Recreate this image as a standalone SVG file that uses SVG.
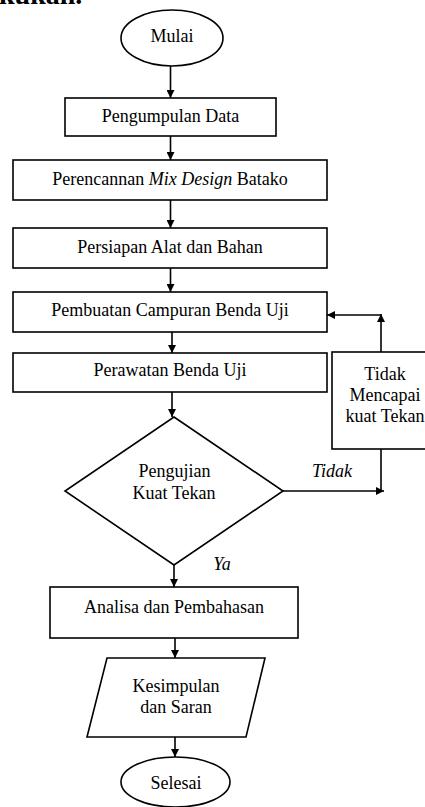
<svg xmlns="http://www.w3.org/2000/svg" width="425" height="807" viewBox="0 0 425 807">
<defs>
<marker id="ah" viewBox="0 0 10 10" refX="10" refY="5" markerWidth="8" markerHeight="8" markerUnits="userSpaceOnUse" orient="auto">
<path d="M0,0 L10,5 L0,10 Z" fill="#000"/>
</marker>
</defs>
<style>
.s{fill:#fff;stroke:#000;stroke-width:1.6}
.t{font-family:"Liberation Serif","Times New Roman",serif;font-size:18px;fill:#000;text-anchor:middle}
.i{font-style:italic}
.c{fill:none;stroke:#000;stroke-width:1.6}
</style>
<rect width="425" height="807" fill="#fff"/>
<text x="-1" y="4" style="font-family:'Liberation Serif',serif;font-size:28px;font-weight:bold">kukan.</text>
<g id="connectors">
<line class="c" x1="170.5" y1="66" x2="170.5" y2="98" marker-end="url(#ah)"/>
<line class="c" x1="170.5" y1="136" x2="170.5" y2="160" marker-end="url(#ah)"/>
<line class="c" x1="170.5" y1="200" x2="170.5" y2="228" marker-end="url(#ah)"/>
<line class="c" x1="170.5" y1="268" x2="170.5" y2="292" marker-end="url(#ah)"/>
<line class="c" x1="172" y1="332" x2="172" y2="353" marker-end="url(#ah)"/>
<line class="c" x1="172" y1="392" x2="172" y2="417" marker-end="url(#ah)"/>
<line class="c" x1="174" y1="565" x2="174" y2="587" marker-end="url(#ah)"/>
<line class="c" x1="175" y1="638" x2="175" y2="658" marker-end="url(#ah)"/>
<line class="c" x1="175" y1="737" x2="175" y2="757" marker-end="url(#ah)"/>
<line class="c" x1="283" y1="491" x2="384" y2="491" marker-end="url(#ah)"/>
<line class="c" x1="381" y1="449" x2="381" y2="491"/>
<line class="c" x1="381" y1="352" x2="381" y2="314" marker-end="url(#ah)"/>
<line class="c" x1="381" y1="315" x2="327" y2="315" marker-end="url(#ah)"/>
<text class="t i" x="332" y="477">Tidak</text>
<text class="t i" x="222" y="570">Ya</text>
</g>
<g id="mulai">
<ellipse class="s" cx="172" cy="38" rx="51" ry="28"/>
<text class="t" x="172" y="42">Mulai</text>
</g>
<g id="pengumpulan">
<rect class="s" x="65" y="98" width="211" height="38"/>
<text class="t" x="170.5" y="122">Pengumpulan Data</text>
</g>
<g id="perencanaan">
<rect class="s" x="13" y="160" width="314" height="40"/>
<text class="t" x="170" y="185">Perencannan <tspan class="i">Mix Design</tspan> Batako</text>
</g>
<g id="persiapan">
<rect class="s" x="13" y="228" width="314" height="40"/>
<text class="t" x="170" y="253">Persiapan Alat dan Bahan</text>
</g>
<g id="pembuatan">
<rect class="s" x="13" y="292" width="314" height="40"/>
<text class="t" x="170" y="316">Pembuatan Campuran Benda Uji</text>
</g>
<g id="perawatan">
<rect class="s" x="13" y="353" width="314" height="39"/>
<text class="t" x="170" y="376">Perawatan Benda Uji</text>
</g>
<g id="tidak-mencapai">
<rect class="s" x="332" y="352" width="105" height="97"/>
<text class="t" x="385" y="380">Tidak</text>
<text class="t" x="385" y="401">Mencapai</text>
<text class="t" x="385" y="422">kuat Tekan</text>
</g>
<g id="pengujian">
<polygon class="s" points="174,417 283,491 174,565 65,491"/>
<text class="t" x="174.5" y="477">Pengujian</text>
<text class="t" x="174" y="499">Kuat Tekan</text>
</g>
<g id="analisa">
<rect class="s" x="50" y="587" width="248" height="51"/>
<text class="t" x="174" y="613">Analisa dan Pembahasan</text>
</g>
<g id="kesimpulan">
<polygon class="s" points="107,658 265,658 246,737 87,737"/>
<text class="t" x="176" y="692">Kesimpulan</text>
<text class="t" x="176" y="713">dan Saran</text>
</g>
<g id="selesai">
<ellipse class="s" cx="175.5" cy="782" rx="54.5" ry="25"/>
<text class="t" x="176" y="789">Selesai</text>
</g>
</svg>
